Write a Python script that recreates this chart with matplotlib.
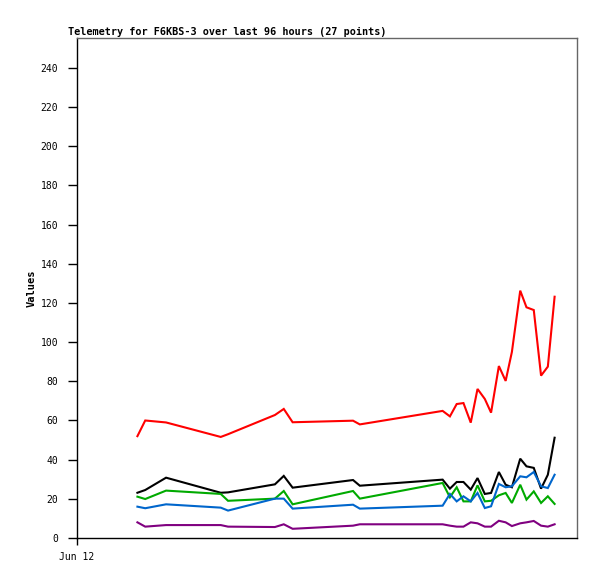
import numpy as np
import matplotlib
matplotlib.use('Agg')
import matplotlib.pyplot as plt

# hours since Jun 12 00:00
hours = [11.6, 13.1, 17.1, 27.6, 29.0, 38.0, 39.7, 41.4, 53.0, 54.3,
         70.2, 71.6, 72.9, 74.2, 75.6, 76.9, 78.3, 79.5, 81.0, 82.3,
         83.5, 85.1, 86.3, 87.7, 89.1, 90.4, 91.7]

red = [52, 60, 59, 51.6, 53, 62.8, 65.9, 59.1, 59.9, 58,
       64.9, 62.1, 68.4, 68.9, 58.9, 76.1, 71, 64, 87.8, 80.2,
       95, 126.3, 117.8, 116.4, 82.9, 87.5, 123.2]
black = [23.1, 24.5, 30.8, 23.1, 23.3, 27.4, 31.7, 25.7, 29.6, 26.7,
         29.8, 25.2, 28.6, 28.6, 24.7, 30.6, 22.5, 23, 33.7, 27.2,
         25.9, 40.5, 36.6, 35.8, 25.2, 32.3, 51.2]
green = [21.1, 19.9, 24.2, 22.5, 19, 20.1, 24, 17.2, 24, 20.1,
         28.1, 20.8, 25.9, 18.7, 18.7, 26.9, 18.7, 19, 21.8, 23,
         17.9, 27.2, 19.6, 23.8, 17.9, 21.3, 17.4]
blue = [16, 15.2, 17.2, 15.5, 14, 20.1, 20.1, 15, 17, 15,
        16.5, 22.5, 18.7, 21.3, 18.7, 23, 15.3, 16.2, 27.6, 25.9,
        26.4, 31.5, 31, 33.7, 26.4, 25.5, 32.3]
purple = [8, 5.8, 6.6, 6.6, 5.8, 5.6, 7, 4.7, 6.3, 7,
          7, 6.3, 5.8, 5.8, 8, 7.5, 5.8, 5.8, 8.8, 8,
          6.1, 7.5, 8, 8.7, 6.3, 5.8, 7]

series = [(red, '#ff0000'), (black, '#000000'), (green, '#00aa00'),
          (blue, '#0066cc'), (purple, '#800080')]

mono = 'DejaVu Sans Mono'

fig = plt.figure(figsize=(5.97, 5.79), dpi=100)
ax = fig.add_axes([77 / 597, 41 / 579, 500 / 597, 500 / 579])

for vals, col in series:
    ax.plot(hours, vals, color=col, linewidth=1.5, solid_joinstyle='miter')

ax.set_xlim(0, 96)
ax.set_ylim(0, 255.3)
ax.set_yticks(np.arange(0, 241, 20))
ax.set_xticks([0])
ax.set_xticklabels(['Jun 12'])

for lab in ax.get_yticklabels() + ax.get_xticklabels():
    lab.set_fontfamily(mono)
    lab.set_fontsize(7)

ax.tick_params(axis='y', direction='out', length=6.5, width=1, pad=7)
ax.tick_params(axis='x', direction='out', length=5, width=1, pad=5)

ax.spines['top'].set_color('#666666')
ax.spines['right'].set_color('#666666')
for s in ax.spines.values():
    s.set_linewidth(1)

ax.set_ylabel('Values', fontfamily=mono, fontweight='bold', fontsize=7.5,
              labelpad=3)

fig.text(68 / 597, 1 - 35 / 579,
         'Telemetry for F6KBS-3 over last 96 hours (27 points)',
         fontfamily=mono, fontweight='bold', fontsize=7.3,
         ha='left', va='baseline')

fig.savefig('out.png', dpi=100, facecolor='white')
